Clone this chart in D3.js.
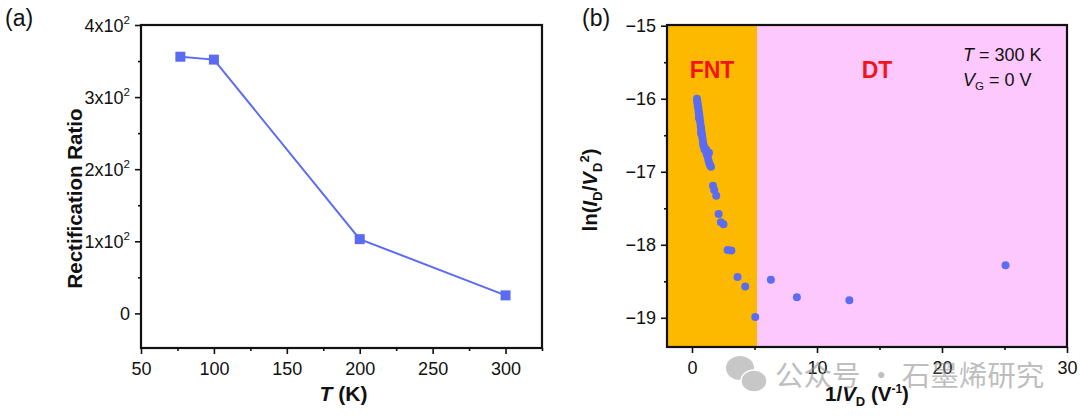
<!DOCTYPE html>
<html><head><meta charset="utf-8">
<script src="https://cdn.jsdelivr.net/npm/d3@7"></script>
<style>
body{margin:0;background:#fff}
svg{display:block}
text{font-family:"Liberation Sans",Arial,Helvetica,sans-serif;fill:#111}
</style>
</head><body>
<svg id="c" width="1080" height="417"></svg>
<script>
// ---- Panel (a) data ----
const tempK = [77, 100, 200, 300];
const rectRatio = [356, 352, 103, 25];
const aXTicks = [50, 100, 150, 200, 250, 300];
const aXMinor = [75, 125, 175, 225, 275, 325];
const aYTicks = [0, 100, 200, 300, 400];
const aYTickLabels = [["0",""], ["1x10","2"], ["2x10","2"], ["3x10","2"], ["4x10","2"]];
const aYMinor = [50, 150, 250, 350];

// ---- Panel (b) data ----
const invVd = [0.40,0.42,0.45,0.46,0.50,0.52,0.54,0.58,0.60,0.62,0.66,0.69,0.73,0.75,0.80,0.82,0.86,0.89,0.95,1.00,1.06,1.12,1.18,1.26,1.31,1.38,1.45,1.52,
               0.55,0.72,0.92,1.15,1.36,
               1.68,1.78,1.94,2.13,2.31,2.52,2.85,3.15,3.64,4.26,5.06,6.31,8.39,12.59,25.08];
const lnIV  = [-16.00,-16.03,-16.06,-16.10,-16.12,-16.15,-16.19,-16.21,-16.25,-16.28,-16.32,-16.37,-16.40,-16.44,-16.49,-16.52,-16.56,-16.61,-16.65,-16.69,-16.70,-16.72,-16.76,-16.79,-16.84,-16.88,-16.91,-16.93,
               -16.26,-16.47,-16.64,-16.70,-16.74,
               -17.19,-17.25,-17.33,-17.58,-17.69,-17.72,-18.07,-18.08,-18.44,-18.57,-18.99,-18.48,-18.72,-18.76,-18.28];
const bXTicks = [0, 10, 20, 30];
const bXMinor = [5, 15, 25];
const bYTicks = [-19, -18, -17, -16, -15];
const bYMinor = [-19.5, -18.5, -17.5, -16.5, -15.5];
const regionNames = ["FNT", "DT"];
const regionBounds = [-2, 5.2, 30];
const regionColors = ["#FDB900", "#FDC8FD"];

const svg = d3.select("#c");
const blue = "#5B6CF3";

function styleAxis(g){
  g.select(".domain").remove();
  g.selectAll(".tick line").attr("stroke","#111").attr("stroke-width",1.6);
  g.selectAll(".tick text").attr("font-size",18).attr("fill","#222");
}

// ================= Panel (a) =================
const A = {l:141, r:542, t:25, b:348};
const xa = d3.scaleLinear().domain([50, 325]).range([A.l, A.r]);
const ya = d3.scaleLinear().domain([-48, 400]).range([A.b, A.t]);

const ga = svg.append("g");
ga.append("g").attr("transform",`translate(0,${A.b})`)
  .call(d3.axisBottom(xa).tickValues(aXTicks).tickSize(6).tickPadding(8).tickFormat(d3.format("d")))
  .call(styleAxis);
ga.append("g").attr("transform",`translate(0,${A.b})`)
  .call(d3.axisBottom(xa).tickValues(aXMinor).tickSize(3).tickFormat(""))
  .call(styleAxis);
const yAx = ga.append("g").attr("transform",`translate(${A.l},0)`)
  .call(d3.axisLeft(ya).tickValues(aYTicks).tickSize(6).tickPadding(6).tickFormat(""))
  .call(styleAxis);
yAx.selectAll(".tick").each(function(d,i){
  const t = d3.select(this).append("text").attr("x",-11).attr("dy","0.36em")
    .attr("text-anchor","end").attr("font-size",18).attr("fill","#222");
  const lab = aYTickLabels[i];
  if (lab[1]) {
    t.append("tspan").text(lab[0]);
    t.append("tspan").attr("dy",-8).attr("font-size",11.5).text(lab[1]);
  } else t.text(lab[0]);
});
ga.append("g").attr("transform",`translate(${A.l},0)`)
  .call(d3.axisLeft(ya).tickValues(aYMinor).tickSize(3).tickFormat(""))
  .call(styleAxis);
ga.append("rect").attr("x",A.l).attr("y",A.t).attr("width",A.r-A.l).attr("height",A.b-A.t)
  .attr("fill","none").attr("stroke","#111").attr("stroke-width",2.2);
const aData = tempK.map((t,i)=>({x:t,y:rectRatio[i]}));
ga.append("path").datum(aData)
  .attr("d", d3.line().x(d=>xa(d.x)).y(d=>ya(d.y)))
  .attr("fill","none").attr("stroke",blue).attr("stroke-width",2);
ga.selectAll("rect.m").data(aData).enter().append("rect").attr("class","m")
  .attr("x",d=>xa(d.x)-5).attr("y",d=>ya(d.y)-5).attr("width",10).attr("height",10)
  .attr("fill",blue);
ga.append("text").attr("x",5).attr("y",26).attr("font-size",23).attr("fill","#222").text("(a)");
ga.append("text").attr("transform",`translate(82,${(A.t+A.b)/2+12}) rotate(-90)`)
  .attr("text-anchor","middle").attr("font-size",20.5).attr("font-weight","bold").attr("fill","#222")
  .text("Rectification Ratio");
const xt = ga.append("text").attr("x",(A.l+A.r)/2+2).attr("y",401).attr("text-anchor","middle")
  .attr("font-size",21).attr("font-weight","bold").attr("fill","#222");
xt.append("tspan").attr("font-style","italic").text("T");
xt.append("tspan").text(" (K)");

// ================= Panel (b) =================
const B = {l:667, r:1067, t:25, b:347};
const xb = d3.scaleLinear().domain([-2, 30]).range([B.l, B.r]);
const yb = d3.scaleLinear().domain([-19.4, -14.99]).range([B.b, B.t]);

const gb = svg.append("g");
gb.selectAll("rect.reg").data(regionNames).enter().append("rect").attr("class","reg")
  .attr("x",(d,i)=>xb(regionBounds[i])).attr("y",B.t)
  .attr("width",(d,i)=>xb(regionBounds[i+1])-xb(regionBounds[i])).attr("height",B.b-B.t)
  .attr("fill",(d,i)=>regionColors[i]);
gb.selectAll("text.reg").data(regionNames).enter().append("text").attr("class","reg")
  .attr("x",(d,i)=> i===0 ? 712 : 877).attr("y",78).attr("text-anchor","middle")
  .attr("font-size",23).attr("font-weight","bold").style("fill","#F2141C").text(d=>d);

gb.append("g").attr("transform",`translate(0,${B.b})`)
  .call(d3.axisBottom(xb).tickValues(bXTicks).tickSize(6).tickPadding(8).tickFormat(d3.format("d")))
  .call(styleAxis);
gb.append("g").attr("transform",`translate(0,${B.b})`)
  .call(d3.axisBottom(xb).tickValues(bXMinor).tickSize(3).tickFormat(""))
  .call(styleAxis);
gb.append("g").attr("transform",`translate(${B.l},0)`)
  .call(d3.axisLeft(yb).tickValues(bYTicks).tickSize(6).tickPadding(5).tickFormat(d3.format("d")))
  .call(styleAxis);
gb.append("g").attr("transform",`translate(${B.l},0)`)
  .call(d3.axisLeft(yb).tickValues(bYMinor.filter(v=>v>-19.4)).tickSize(3).tickFormat(""))
  .call(styleAxis);
gb.append("rect").attr("x",B.l).attr("y",B.t).attr("width",B.r-B.l).attr("height",B.b-B.t)
  .attr("fill","none").attr("stroke","#111").attr("stroke-width",2.2);

gb.selectAll("circle").data(invVd.map((v,i)=>({x:v,y:lnIV[i]}))).enter().append("circle")
  .attr("cx",d=>xb(d.x)).attr("cy",d=>yb(d.y)).attr("r",4).attr("fill",blue);

const t1 = gb.append("text").attr("x",963).attr("y",61).attr("font-size",18).attr("fill","#222");
t1.append("tspan").attr("font-style","italic").text("T");
t1.append("tspan").text(" = 300 K");
const t2 = gb.append("text").attr("x",963).attr("y",86).attr("font-size",18).attr("fill","#222");
t2.append("tspan").attr("font-style","italic").text("V");
t2.append("tspan").attr("font-size",11.5).attr("dy",4).text("G");
t2.append("tspan").attr("dy",-4).text(" = 0 V");

gb.append("text").attr("x",582).attr("y",26).attr("font-size",23).attr("fill","#222").text("(b)");

const yt = gb.append("text").attr("transform",`translate(597,${(B.t+B.b)/2+4}) rotate(-90)`)
  .attr("text-anchor","middle").attr("font-size",20.5).attr("font-weight","bold").attr("fill","#222");
yt.append("tspan").text("ln(");
yt.append("tspan").attr("font-style","italic").text("I");
yt.append("tspan").attr("font-size",13).attr("dy",5).text("D");
yt.append("tspan").attr("dy",-5).text("/");
yt.append("tspan").attr("font-style","italic").text("V");
yt.append("tspan").attr("font-size",13).attr("dy",5).text("D");
yt.append("tspan").attr("font-size",13).attr("dy",-13).text("2");
yt.append("tspan").attr("dy",8).text(")");

const xtb = gb.append("text").attr("x",867).attr("y",401).attr("text-anchor","middle")
  .attr("font-size",20.5).attr("font-weight","bold").attr("fill","#222");
xtb.append("tspan").text("1/");
xtb.append("tspan").attr("font-style","italic").text("V");
xtb.append("tspan").attr("font-size",13).attr("dy",5).text("D");
xtb.append("tspan").attr("dy",-5).text(" (V");
xtb.append("tspan").attr("font-size",12).attr("dy",-8).text("-1");
xtb.append("tspan").attr("dy",8).text(")");

// watermark
const wm = svg.append("g").attr("opacity",0.55);
wm.append("ellipse").attr("cx",740).attr("cy",368).attr("rx",14).attr("ry",12).attr("fill","#9a9a9a");
wm.append("ellipse").attr("cx",754).attr("cy",381).attr("rx",13).attr("ry",11).attr("fill","#9a9a9a").attr("stroke","#fff").attr("stroke-width",1.5);
wm.append("text").attr("x",775).attr("y",386).attr("font-size",28.5)
  .style("font-family","'Noto Sans CJK SC',sans-serif").style("fill","#8a8a8a")
  .text("公众号 · 石墨烯研究");
</script>
</body></html>
